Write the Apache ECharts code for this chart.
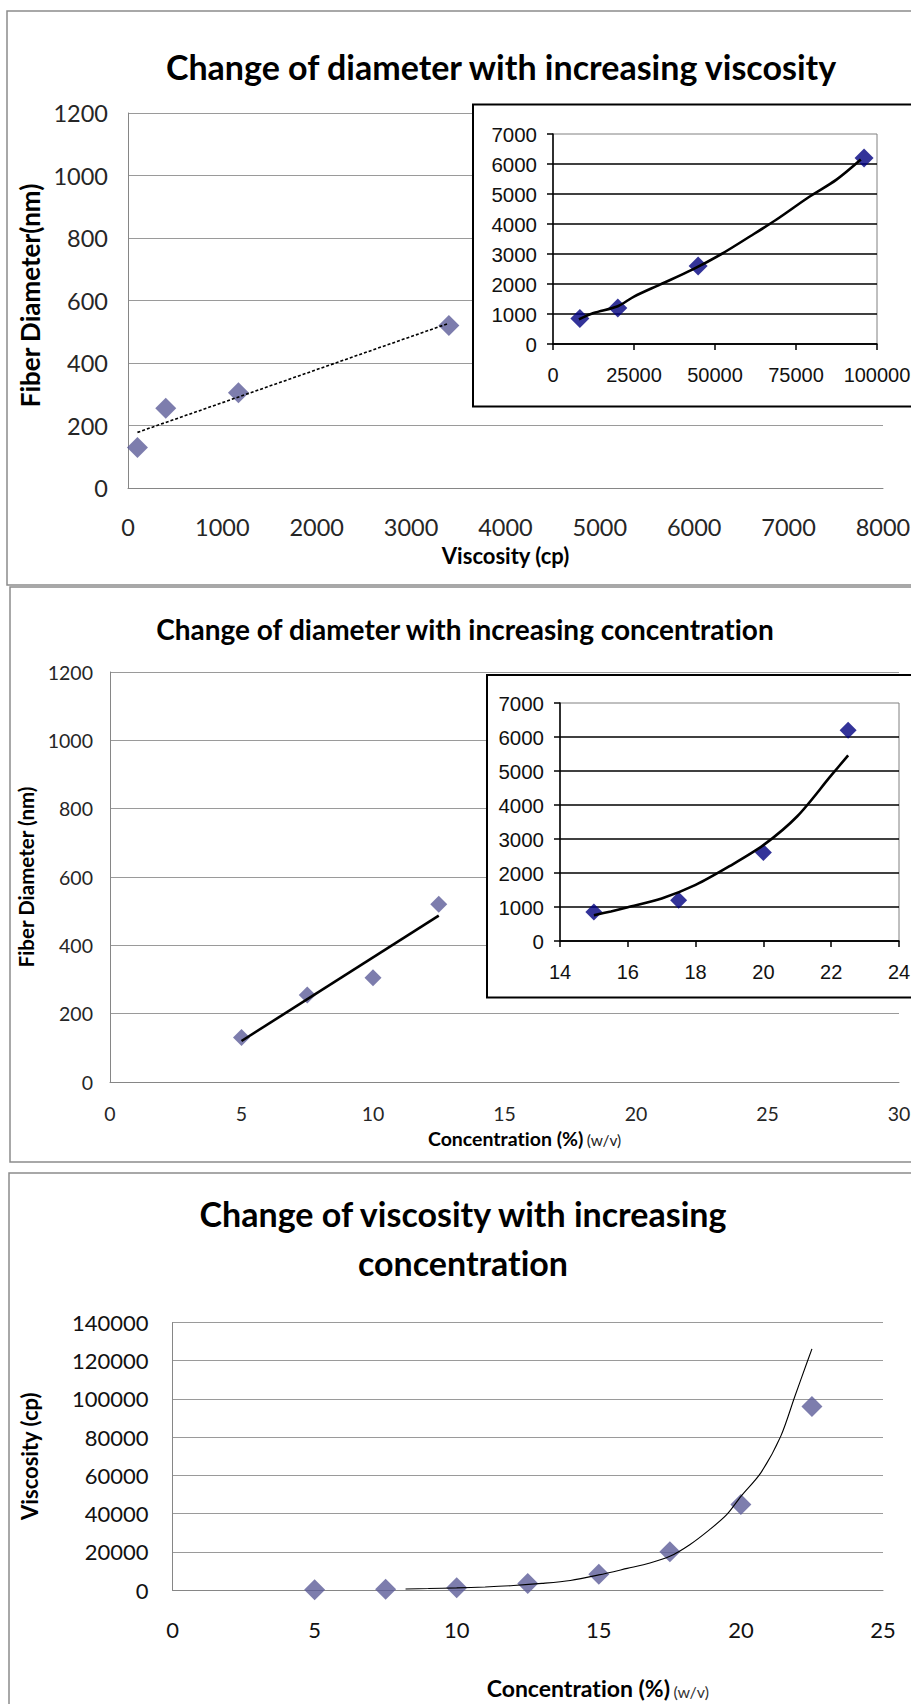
<!DOCTYPE html>
<html>
<head>
<meta charset="utf-8">
<title>Fiber diameter, viscosity and concentration</title>
<script src="https://cdn.jsdelivr.net/npm/echarts@6/dist/echarts.min.js"></script>
<style>
  html, body { margin: 0; padding: 0; background: #ffffff; }
  #chart { width: 911px; height: 1704px; }
  /* keep "ti" and similar pairs as separate letters */
  #chart svg text, #chart svg tspan { font-variant-ligatures: none !important; font-feature-settings: "liga" 0, "clig" 0 !important; }
</style>
</head>
<body>
<div id="chart"></div>
<script>
// ---- measured data -------------------------------------------------------
// polymer concentration (% w/v)
const lowConcentration = [5, 7.5, 10, 12.5];
const highConcentration = [15, 17.5, 20, 22.5];
// solution viscosity (cp)
const lowViscosity = [100, 400, 1170, 3400];
const highViscosity = [8300, 20000, 44800, 96000];
// mean fiber diameter (nm)
const lowDiameter = [130, 255, 305, 520];
const highDiameter = [850, 1200, 2600, 6200];

// ---- trendlines (points taken along each fitted curve) --------------------
const trendDiamViscLowX = [100, 3400];
const trendDiamViscLowY = [178, 527];
const trendDiamViscHighX = [8000, 12500, 20000, 25000, 33000, 43000, 52000, 61000, 69000, 79000, 87500, 95000];
const trendDiamViscHighY = [820, 1030, 1260, 1580, 1980, 2480, 3000, 3600, 4150, 4900, 5480, 6150];
const trendDiamConcLowX = [5, 12.5];
const trendDiamConcLowY = [120, 487];
const trendDiamConcHighX = [15, 15.5, 16, 17, 18, 19, 20, 21, 22, 22.5];
const trendDiamConcHighY = [760, 870, 990, 1250, 1650, 2200, 2820, 3670, 4870, 5460];
const trendViscConcX = [8.2, 9, 10, 11, 12, 13, 14, 15, 16, 16.8, 17.5, 18.2, 18.9, 19.5, 20, 20.7, 21.4, 21.9, 22.3, 22.5];
const trendViscConcY = [560, 760, 1100, 1600, 2350, 3450, 5000, 7900, 11300, 14100, 17600, 23700, 31600, 39400, 49000, 61300, 80400, 101400, 118000, 126200];

// ---- axis ranges: [min, max, interval] -------------------------------------
const viscosityAxisLow = [0, 8000, 1000];
const viscosityAxisHigh = [0, 100000, 25000];
const diameterAxisLow = [0, 1200, 200];
const diameterAxisHigh = [0, 7000, 1000];
const concentrationAxisLow = [0, 30, 5];
const concentrationAxisHigh = [14, 24, 2];
const concentrationAxisAll = [0, 25, 5];
const viscosityAxisAll = [0, 140000, 20000];

const pairs = (xs, ys) => xs.map((x, i) => [x, ys[i]]);
const plain = (v) => String(v);

const SANS = 'Lato';
const ARIAL = 'Liberation Sans';
const MAIN_MARK = '#5d5d98';
const INSET_MARK = '#000080';
const MAIN_GRID = '#9a9a9a';

function range(r) { return { min: r[0], max: r[1], interval: r[2] }; }
function mainLabel(size, margin, color) {
  return { showMinLabel: true, showMaxLabel: true, formatter: plain, margin: margin,
           fontFamily: SANS, fontSize: size, color: color };
}

// value axis in the Excel 2007 style used by the three large plots
function mainX(grid, r, name, opts) {
  return Object.assign({
    gridIndex: grid, type: 'value', ...range(r),
    name: name, nameLocation: 'middle',
    axisLine: { show: true, onZero: false, lineStyle: { color: '#868686', width: 1 } },
    axisTick: { show: false },
    splitLine: { show: false }
  }, opts);
}
function mainY(grid, r, name, opts) {
  return Object.assign({
    gridIndex: grid, type: 'value', ...range(r),
    name: name, nameLocation: 'middle', nameRotate: 90,
    axisLine: { show: true, onZero: false, lineStyle: { color: '#868686', width: 1 } },
    axisTick: { show: false },
    splitLine: { show: true, lineStyle: { color: MAIN_GRID, width: 1.2 } }
  }, opts);
}
// value axis in the older black-line style used by the two insets
function insetX(grid, r) {
  return {
    gridIndex: grid, type: 'value', ...range(r), z: 12,
    axisLine: { show: true, onZero: false, lineStyle: { color: '#000', width: 1.5 } },
    axisTick: { show: true, inside: false, length: 6, lineStyle: { color: '#000', width: 1.5 } },
    axisLabel: { showMinLabel: true, showMaxLabel: true, formatter: plain, margin: 21,
                 fontFamily: ARIAL, fontSize: 20, color: '#111' },
    splitLine: { show: false }
  };
}
function insetY(grid, r) {
  return {
    gridIndex: grid, type: 'value', ...range(r), z: 12,
    axisLine: { show: true, onZero: false, lineStyle: { color: '#000', width: 1.5 } },
    axisTick: { show: true, inside: false, length: 6, lineStyle: { color: '#000', width: 1.5 } },
    axisLabel: { showMinLabel: true, showMaxLabel: true, formatter: plain, margin: 16,
                 fontFamily: ARIAL, fontSize: 20.5, color: '#111' },
    splitLine: { show: true, showMaxLine: false, lineStyle: { color: '#000', width: 1.5 } }
  };
}

const boldName = (size, extra) => Object.assign({ fontFamily: SANS, fontWeight: 'bold', fontSize: size, color: '#000' }, extra || {});

const option = {
  animation: false,
  backgroundColor: '#ffffff',
  title: [
    {
      text: 'Change of diameter with increasing viscosity',
      left: 501, top: 46, textAlign: 'center', padding: 0,
      textStyle: { fontFamily: SANS, fontWeight: 'bold', fontSize: 34, lineHeight: 40, color: '#000' }
    },
    {
      text: 'Change of diameter with increasing concentration',
      left: 465, top: 612, textAlign: 'center', padding: 0,
      textStyle: { fontFamily: SANS, fontWeight: 'bold', fontSize: 28, lineHeight: 34, color: '#000' }
    },
    {
      text: 'Change of viscosity with increasing\nconcentration',
      left: 463, top: 1189.5, textAlign: 'center', padding: 0,
      textStyle: { fontFamily: SANS, fontWeight: 'bold', fontSize: 34, lineHeight: 48.6, color: '#000' }
    }
  ],
  grid: [
    { left: 128, top: 113, width: 755, height: 375, outerBoundsMode: 'none' },
    { left: 553, top: 134, width: 324, height: 210, show: true, borderColor: '#808080', borderWidth: 1,
      backgroundColor: 'transparent', z: 11, outerBoundsMode: 'none' },
    { left: 110, top: 672, width: 789, height: 410, outerBoundsMode: 'none' },
    { left: 560, top: 703, width: 339, height: 238, show: true, borderColor: '#808080', borderWidth: 1,
      backgroundColor: 'transparent', z: 11, outerBoundsMode: 'none' },
    { left: 172.5, top: 1322.5, width: 710.5, height: 267.5, outerBoundsMode: 'none' }
  ],
  xAxis: [
    mainX(0, viscosityAxisLow, 'Viscosity (cp)', {
      nameGap: 56, nameTextStyle: boldName(22),
      axisLabel: mainLabel(23.5, 27, '#262626')
    }),
    insetX(1, viscosityAxisHigh),
    mainX(2, concentrationAxisLow, '{b|Concentration (%)} {s|(w/v)}', {
      nameGap: 46,
      nameTextStyle: {
        padding: [0, 0, 0, 40],
        rich: {
          b: boldName(19.5),
          s: { fontFamily: SANS, fontSize: 15.5, color: '#222', verticalAlign: 'bottom' }
        }
      },
      axisLabel: mainLabel(19.5, 21, '#262626')
    }),
    insetX(3, concentrationAxisHigh),
    mainX(4, concentrationAxisAll, '{b|Concentration (%)} {s|(w/v)}', {
      nameGap: 86,
      nameTextStyle: {
        padding: [0, 0, 0, 140],
        rich: {
          b: boldName(23),
          s: { fontFamily: SANS, fontSize: 16, color: '#333', verticalAlign: 'bottom' }
        }
      },
      axisLabel: mainLabel(22, 28, '#111')
    })
  ],
  yAxis: [
    mainY(0, diameterAxisLow, 'Fiber Diameter(nm)', {
      nameGap: 76, nameTextStyle: boldName(26, { padding: [0, 0, 0, 10] }),
      axisLabel: mainLabel(23.5, 20, '#262626')
    }),
    insetY(1, diameterAxisHigh),
    mainY(2, diameterAxisLow, 'Fiber Diameter (nm)', {
      nameGap: 62, nameTextStyle: boldName(20.5),
      axisLabel: mainLabel(19.5, 17, '#262626')
    }),
    insetY(3, diameterAxisHigh),
    mainY(4, viscosityAxisAll, 'Viscosity (cp)', {
      nameGap: 132, nameTextStyle: boldName(22),
      axisLabel: mainLabel(22, 24, '#111')
    })
  ],
  series: [
    // diameter vs viscosity, 5-12.5 %
    { type: 'scatter', xAxisIndex: 0, yAxisIndex: 0, z: 3, symbol: 'diamond', symbolSize: 21,
      itemStyle: { color: MAIN_MARK }, data: pairs(lowViscosity, lowDiameter) },
    { type: 'line', xAxisIndex: 0, yAxisIndex: 0, z: 4, showSymbol: false, symbol: 'none',
      lineStyle: { color: '#000', width: 1.6, type: [3, 2] }, data: pairs(trendDiamViscLowX, trendDiamViscLowY) },
    // inset: diameter vs viscosity, 15-22.5 %
    { type: 'scatter', xAxisIndex: 1, yAxisIndex: 1, z: 13, symbol: 'diamond', symbolSize: 19,
      itemStyle: { color: INSET_MARK }, data: pairs(highViscosity, highDiameter) },
    { type: 'line', xAxisIndex: 1, yAxisIndex: 1, z: 14, showSymbol: false, symbol: 'none', smooth: 0.3,
      lineStyle: { color: '#000', width: 2.6 }, data: pairs(trendDiamViscHighX, trendDiamViscHighY) },
    // diameter vs concentration, 5-12.5 %
    { type: 'scatter', xAxisIndex: 2, yAxisIndex: 2, z: 3, symbol: 'diamond', symbolSize: 17,
      itemStyle: { color: MAIN_MARK }, data: pairs(lowConcentration, lowDiameter) },
    { type: 'line', xAxisIndex: 2, yAxisIndex: 2, z: 4, showSymbol: false, symbol: 'none',
      lineStyle: { color: '#000', width: 2.6 }, data: pairs(trendDiamConcLowX, trendDiamConcLowY) },
    // inset: diameter vs concentration, 15-22.5 %
    { type: 'scatter', xAxisIndex: 3, yAxisIndex: 3, z: 13, symbol: 'diamond', symbolSize: 17,
      itemStyle: { color: INSET_MARK }, data: pairs(highConcentration, highDiameter) },
    { type: 'line', xAxisIndex: 3, yAxisIndex: 3, z: 14, showSymbol: false, symbol: 'none', smooth: 0.3,
      lineStyle: { color: '#000', width: 2.6 }, data: pairs(trendDiamConcHighX, trendDiamConcHighY) },
    // viscosity vs concentration, all solutions
    { type: 'scatter', xAxisIndex: 4, yAxisIndex: 4, z: 3, symbol: 'diamond', symbolSize: 21,
      itemStyle: { color: MAIN_MARK },
      data: pairs(lowConcentration.concat(highConcentration), lowViscosity.concat(highViscosity)) },
    { type: 'line', xAxisIndex: 4, yAxisIndex: 4, z: 4, showSymbol: false, symbol: 'none', smooth: 0.3,
      lineStyle: { color: '#000', width: 1.1 }, data: pairs(trendViscConcX, trendViscConcY) }
  ],
  graphic: [
    // chart-area frames of the three charts
    { type: 'rect', z: 1, silent: true, shape: { x: 7, y: 11, width: 1000, height: 574 },
      style: { fill: 'none', stroke: '#8c8c8c', lineWidth: 1.5 } },
    { type: 'rect', z: 1, silent: true, shape: { x: 10, y: 587, width: 1000, height: 575 },
      style: { fill: 'none', stroke: '#8c8c8c', lineWidth: 1.5 } },
    { type: 'rect', z: 1, silent: true, shape: { x: 9, y: 1173, width: 1000, height: 600 },
      style: { fill: 'none', stroke: '#8c8c8c', lineWidth: 1.5 } },
    // white inset frames laid over the large plots
    { type: 'rect', z: 10, silent: true, shape: { x: 473, y: 104.5, width: 500, height: 302 },
      style: { fill: '#ffffff', stroke: '#000', lineWidth: 2 } },
    { type: 'rect', z: 10, silent: true, shape: { x: 487, y: 675, width: 500, height: 322.5 },
      style: { fill: '#ffffff', stroke: '#000', lineWidth: 2 } }
  ]
};

const chart = echarts.init(document.getElementById('chart'), null, { renderer: 'svg' });
chart.setOption(option);
</script>
</body>
</html>
